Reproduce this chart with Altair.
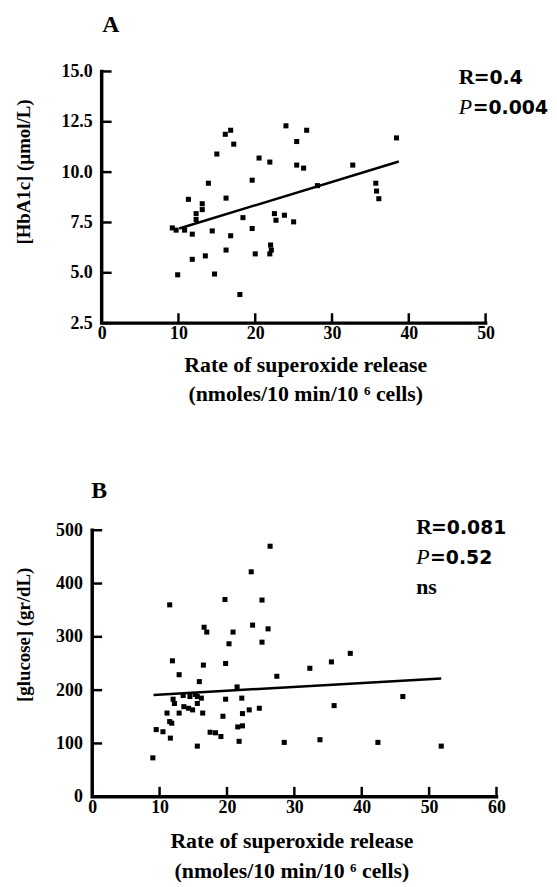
import altair as alt
import pandas as pd

# ---------------- Panel A data ----------------
a_x = [9.2, 9.7, 9.9, 10.8, 11.3, 11.8, 11.8, 12.3, 12.3, 13.1, 13.1, 13.5, 13.9, 14.4,
       14.7, 15.0, 16.1, 16.2, 16.2, 16.8, 17.2, 16.8, 18.0, 18.4, 19.6, 19.6, 20.0, 20.5,
       21.9, 22.0, 22.1, 21.9, 22.5, 22.7, 23.8, 24.0, 26.7, 25.4, 25.4, 26.3, 32.7, 38.4,
       35.7, 35.8, 36.1, 25.0, 28.1]
a_y = [7.23, 7.12, 4.9, 7.12, 8.65, 6.92, 5.67, 7.94, 7.65, 8.43, 8.14, 5.84, 9.45, 7.08,
       4.94, 10.9, 11.88, 8.71, 6.13, 12.08, 11.39, 6.84, 3.92, 7.74, 9.6, 7.2, 5.94, 10.7,
       10.5, 6.38, 6.13, 5.94, 7.94, 7.61, 7.86, 12.3, 12.08, 11.52, 10.35, 10.2, 10.35, 11.7,
       9.45, 9.06, 8.68, 7.53, 9.33]
a_line_x = [10.1, 38.7]
a_line_y = [7.2, 10.53]
a_xticks = [0, 10, 20, 30, 40, 50]
a_yticks = [2.5, 5.0, 7.5, 10.0, 12.5, 15.0]

# ---------------- Panel B data ----------------
b_x = [9.0, 9.5, 10.5, 11.6, 11.8, 11.1, 11.5, 11.9, 12.9, 12.0, 12.2, 12.9, 13.6, 14.3,
       14.9, 15.9, 15.6, 13.5, 14.5, 15.3, 16.2, 15.6, 15.6, 16.4, 16.5, 16.6, 17.0, 17.5,
       18.3, 19.1, 19.4, 19.8, 19.8, 19.7, 20.3, 20.9, 21.5, 21.6, 22.3, 21.8, 22.2, 22.3,
       23.3, 23.6, 23.8, 24.8, 25.2, 25.2, 26.1, 26.4, 27.4, 28.5, 32.3, 35.5, 38.3, 35.9,
       46.1, 33.8, 42.4, 51.8, 11.5]
b_y = [73, 126, 122, 110, 138, 157, 360, 255, 229, 183, 175, 157, 169, 166,
       163, 216, 188, 190, 188, 192, 185, 175, 95, 157, 247, 318, 309, 121,
       120, 113, 151, 183, 250, 370, 287, 309, 206, 131, 133, 104, 185, 156,
       163, 422, 322, 166, 369, 290, 315, 470, 226, 102, 241, 253, 269, 171,
       188, 107, 102, 95, 141]
b_line_x = [9.1, 51.8]
b_line_y = [191, 222]
b_xticks = [0, 10, 20, 30, 40, 50, 60]
b_yticks = [0, 100, 200, 300, 400, 500]

SERIF = "Liberation Serif"
SANS = "DejaVu Sans"
X_TITLE = ["Rate of superoxide release", "(nmoles/10 min/10  \u2076  cells)"]
TICK_PX = 10


def panel(px, py, lx, ly, xticks, yticks, xdom, ydom, W, H, ytitle, letter,
          letter_pos, r_val, p_val, extra, ann_x, ann_y, ytitle_y, xtitle_x,
          xtitle_y, xtitle_lh, ylab_pad, yfmt):
    pts = pd.DataFrame({"x": px, "y": py})
    line = pd.DataFrame({"x": lx, "y": ly})

    xs = alt.Scale(domain=xdom, nice=False, zero=False)
    ys = alt.Scale(domain=ydom, nice=False, zero=False)

    xaxis = alt.Axis(values=xticks, ticks=False, domain=False, grid=False,
                     labelFont=SERIF, labelFontSize=18, labelFontWeight="bold",
                     labelColor="black", labelPadding=2, labelFlush=False,
                     title=X_TITLE, titleFont=SERIF, titleFontSize=22,
                     titleFontWeight="bold", titleColor="black",
                     titleBaseline="alphabetic", titleLineHeight=xtitle_lh,
                     titleX=xtitle_x, titleY=xtitle_y, format=".0f")
    yaxis = alt.Axis(values=yticks, ticks=False, domain=False, grid=False,
                     labelFont=SERIF, labelFontSize=18, labelFontWeight="bold",
                     labelColor="black", labelPadding=ylab_pad, labelFlush=False,
                     title=ytitle, titleFont=SERIF, titleFontSize=19,
                     titleFontWeight="bold", titleColor="black",
                     titleX=-59, titleY=ytitle_y, format=yfmt)

    pts_layer = alt.Chart(pts).mark_square(size=26, color="black", opacity=1).encode(
        x=alt.X("x:Q", scale=xs, axis=xaxis),
        y=alt.Y("y:Q", scale=ys, axis=yaxis),
    )
    reg = alt.Chart(line).mark_line(color="black", strokeWidth=2.5).encode(
        x=alt.X("x:Q", scale=xs), y=alt.Y("y:Q", scale=ys)
    )

    # inward tick marks: short segments whose length is converted to data units
    tx = TICK_PX * (xdom[1] - xdom[0]) / W
    ty = TICK_PX * (ydom[1] - ydom[0]) / H
    rows = []
    for i, v in enumerate(xticks):
        rows.append({"id": f"x{i}", "o": 0, "x": v, "y": ydom[0]})
        rows.append({"id": f"x{i}", "o": 1, "x": v, "y": ydom[0] + ty})
    for j, v in enumerate(yticks):
        rows.append({"id": f"y{j}", "o": 0, "x": 0, "y": v})
        rows.append({"id": f"y{j}", "o": 1, "x": tx, "y": v})
    ticks_df = pd.DataFrame(rows)
    axis_df = pd.DataFrame({"o": [0, 1, 2], "x": [0, 0, xticks[-1]],
                            "y": [ydom[1], ydom[0], ydom[0]]})

    tick_layer = alt.Chart(ticks_df).mark_line(color="black", strokeWidth=2.5).encode(
        x=alt.X("x:Q", scale=xs), y=alt.Y("y:Q", scale=ys),
        detail="id:N", order="o:Q")
    axis_layer = alt.Chart(axis_df).mark_line(
        color="black", strokeWidth=3.5, strokeCap="square", strokeJoin="miter").encode(
        x=alt.X("x:Q", scale=xs), y=alt.Y("y:Q", scale=ys), order="o:Q")

    layers = [pts_layer, reg, tick_layer, axis_layer]

    def txt(s, x, y, size=20, font=SERIF, weight="bold", style="normal"):
        return alt.Chart(pd.DataFrame({"t": [s]})).mark_text(
            font=font, fontSize=size, fontWeight=weight, fontStyle=style,
            align="left", baseline="alphabetic", color="black").encode(
            text="t:N", x=alt.value(x), y=alt.value(y))

    layers.append(txt(letter, letter_pos[0], letter_pos[1], size=24))
    layers.append(txt("R", ann_x, ann_y, size=22))
    layers.append(txt("=" + r_val, ann_x + 15, ann_y, size=19, font=SANS))
    layers.append(txt("P", ann_x, ann_y + 30, size=22, weight="normal", style="italic"))
    layers.append(txt("=" + p_val, ann_x + 14, ann_y + 30, size=19, font=SANS))
    if extra:
        layers.append(txt(extra, ann_x, ann_y + 60, size=22))

    return alt.layer(*layers).properties(width=W, height=H)


chart_a = panel(a_x, a_y, a_line_x, a_line_y, a_xticks, a_yticks,
                [-1.23, 50], [2.5, 15], 397, 254, "[HbA1c] (\u00b5mol/L)", "A", (10, -40),
                "0.4", "0.004", None, 370, 13, 101, 215, 49, 29, 0, ".1f")
chart_b = panel(b_x, b_y, b_line_x, b_line_y, b_xticks, b_yticks,
                [0, 60], [0, 500], 408, 269, "[glucose] (gr/dL)", "B", (-1, -33),
                "0.081", "0.52", "ns", 327, 4, 105, 201, 51, 30, 10, ".0f")

chart = alt.vconcat(chart_a, chart_b, spacing=75).configure_view(stroke=None).properties(
    background="white", padding={"left": 6, "top": 1, "right": 0, "bottom": 0})

chart.save("out.html", embed_options={"renderer": "svg", "actions": False})
